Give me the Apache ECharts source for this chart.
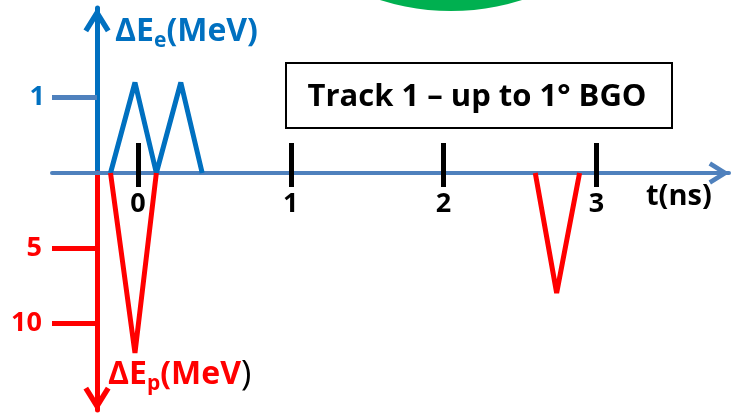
<!DOCTYPE html>
<html>
<head>
<meta charset="utf-8">
<script src="https://cdn.jsdelivr.net/npm/echarts@6/dist/echarts.min.js"></script>
<style>
  html, body { margin: 0; padding: 0; background: #fff; }
  #chart { width: 731px; height: 413px; }
</style>
</head>
<body>
<div id="chart"></div>
<script>
// time ticks (ns) and energy ticks (MeV)
const timeTicks = [0, 1, 2, 3];
const eTicks = [1];
const pTicks = [5, 10];

// electron signal (up)
const eTime = [-0.18, -0.02, 0.12, 0.28, 0.42];
const eVal = [0, 1.19, 0, 1.19, 0];

// proton signals (down)
const p1Time = [-0.18, -0.02, 0.12];
const p1Val = [0, 12, 0];
const p2Time = [2.6, 2.74, 2.89];
const p2Val = [0, 8, 0];

const FONT = 'Open Sans';
const BLUE = '#0070C0';
const AXIS_BLUE = '#4F81BD';
const RED = '#FF0000';
// chevron pointing up
const CHEVRON = 'path://M10,0 L20,16 L16.6,18.1 L10,7.5 L3.4,18.1 L0,16 Z';

const xMin = -0.563, xMax = 3.868;

const chart = echarts.init(document.getElementById('chart'));

const option = {
    animation: false,
    backgroundColor: '#fff',
    grid: [
        {left: 52, top: 8, width: 677, height: 165, outerBoundsMode: 'none', containLabel: false},
        {left: 52, top: 173, width: 677, height: 237, outerBoundsMode: 'none', containLabel: false},
    ],
    xAxis: [
        {
            gridIndex: 0, type: 'value', min: xMin, max: xMax, position: 'bottom',
            axisLine: {
                show: true, onZero: false,
                lineStyle: {color: AXIS_BLUE, width: 4},
                symbol: ['none', CHEVRON], symbolSize: [23, 21], symbolOffset: [0, -10],
            },
            axisTick: {show: true, inside: true, length: 30, customValues: timeTicks,
                lineStyle: {color: '#000', width: 5}},
            axisLabel: {show: true, customValues: timeTicks, margin: 18,
                color: '#000', fontFamily: FONT, fontWeight: 'bold', fontSize: 27},
            splitLine: {show: false},
        },
        {
            gridIndex: 1, type: 'value', min: xMin, max: xMax, position: 'top',
            axisLine: {show: false, onZero: false},
            axisTick: {show: true, inside: true, length: 14, customValues: timeTicks,
                lineStyle: {color: '#000', width: 5}},
            axisLabel: {show: false},
            splitLine: {show: false},
        },
    ],
    yAxis: [
        {
            gridIndex: 0, type: 'value', min: 0, max: 2.17, position: 'left', offset: -45,
            axisLine: {
                show: true, onZero: false,
                lineStyle: {color: BLUE, width: 5},
                symbol: ['none', CHEVRON], symbolSize: [27, 25], symbolOffset: [0, -12],
            },
            axisTick: {show: true, length: 45, customValues: eTicks,
                lineStyle: {color: AXIS_BLUE, width: 5}},
            axisLabel: {show: true, customValues: eTicks, margin: 52,
                color: BLUE, fontFamily: FONT, fontWeight: 'bold', fontSize: 27},
            splitLine: {show: false},
        },
        {
            gridIndex: 1, type: 'value', min: -15.8, max: 0, position: 'left', offset: -45,
            axisLine: {
                show: true, onZero: false,
                lineStyle: {color: RED, width: 5},
                symbol: [CHEVRON, 'none'], symbolSize: [27, 25], symbolOffset: [11, 0],
            },
            axisTick: {show: true, length: 45, customValues: pTicks.map(v => -v),
                lineStyle: {color: RED, width: 5}},
            axisLabel: {show: true, customValues: pTicks.map(v => -v), margin: 55,
                formatter: v => String(Math.abs(v)),
                color: RED, fontFamily: FONT, fontWeight: 'bold', fontSize: 27},
            splitLine: {show: false},
        },
    ],
    series: [
        {
            type: 'line', xAxisIndex: 0, yAxisIndex: 0, showSymbol: false, z: 3,
            lineStyle: {color: BLUE, width: 5, join: 'bevel'},
            data: eTime.map((t, i) => [t, eVal[i]]),
        },
        {
            type: 'line', xAxisIndex: 1, yAxisIndex: 1, showSymbol: false, z: 3,
            lineStyle: {color: RED, width: 5, join: 'bevel'},
            data: p1Time.map((t, i) => [t, -p1Val[i]]),
        },
        {
            type: 'line', xAxisIndex: 1, yAxisIndex: 1, showSymbol: false, z: 3,
            lineStyle: {color: RED, width: 5, join: 'bevel'},
            data: p2Time.map((t, i) => [t, -p2Val[i]]),
        },
    ],
    graphic: [
        // green disc peeking in at the top
        {type: 'circle', shape: {cx: 451, cy: -224, r: 235}, style: {fill: '#00B050'}},
        // title box
        {type: 'rect', shape: {x: 286, y: 63, width: 386, height: 65},
            style: {fill: '#fff', stroke: '#000', lineWidth: 2}},
        {type: 'text', x: 477, y: 97, style: {
            text: 'Track 1 – up to 1° BGO', align: 'center', verticalAlign: 'middle',
            fill: '#000', font: 'bold 31px "Open Sans"'}},
        // axis names
        {type: 'text', x: 115, y: 12, style: {
            text: '{a|ΔE}{s|e}{a|(MeV)}', align: 'left', verticalAlign: 'top',
            rich: {
                a: {fill: BLUE, fontFamily: FONT, fontWeight: 'bold', fontSize: 32, lineHeight: 40, verticalAlign: 'middle'},
                s: {fill: BLUE, fontFamily: FONT, fontWeight: 'bold', fontSize: 21, lineHeight: 20, verticalAlign: 'bottom'},
            }}},
        {type: 'text', x: 108, y: 355, style: {
            text: '{a|ΔE}{s|p}{a|(MeV}{k|)}', align: 'left', verticalAlign: 'top',
            rich: {
                a: {fill: RED, fontFamily: FONT, fontWeight: 'bold', fontSize: 32, lineHeight: 40, verticalAlign: 'middle'},
                s: {fill: RED, fontFamily: FONT, fontWeight: 'bold', fontSize: 21, lineHeight: 20, verticalAlign: 'bottom'},
                k: {fill: '#000', fontFamily: FONT, fontWeight: 'normal', fontSize: 35, lineHeight: 40, verticalAlign: 'middle'},
            }}},
        {type: 'text', x: 646, y: 197, style: {
            text: 't(ns)', align: 'left', verticalAlign: 'middle',
            fill: '#000', font: 'bold 29px "Open Sans"'}},
    ],
};

chart.setOption(option);
</script>
</body>
</html>
